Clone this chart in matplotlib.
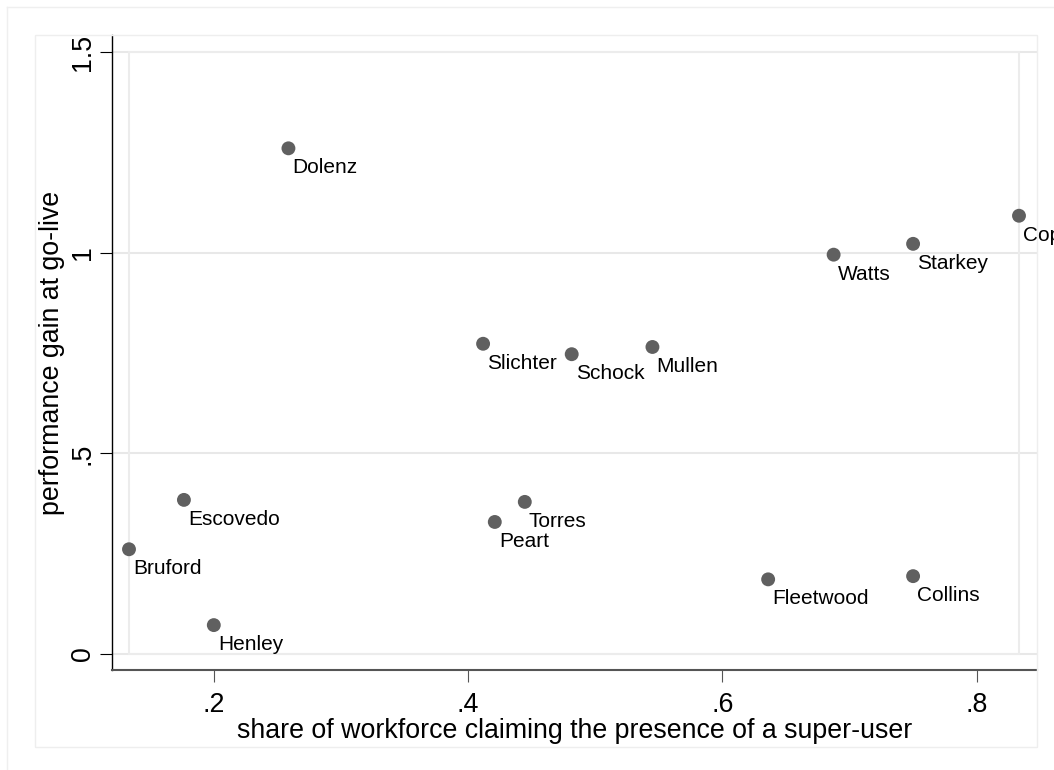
import matplotlib
matplotlib.use("Agg")
import matplotlib.pyplot as plt
from matplotlib.lines import Line2D
from matplotlib.patches import Rectangle

plt.rcParams['font.family'] = ['Liberation Sans', 'DejaVu Sans']

# drummers: share claiming a super-user vs. performance gain at go-live
names = ['Bruford', 'Escovedo', 'Henley', 'Dolenz', 'Slichter', 'Schock', 'Mullen',
         'Torres', 'Peart', 'Fleetwood', 'Collins', 'Watts', 'Starkey', 'Copeland']
share = [0.1333, 0.1765, 0.2000, 0.2587, 0.4118, 0.4815, 0.5450,
         0.4446, 0.4210, 0.6360, 0.7500, 0.6875, 0.7500, 0.8333]
gain = [0.261, 0.384, 0.072, 1.260, 0.773, 0.747, 0.765,
        0.379, 0.329, 0.186, 0.194, 0.995, 1.022, 1.092]

xticks = [0.2, 0.4, 0.6, 0.8]
yticks = [0, 0.5, 1, 1.5]


def stata_fmt(v):
    s = ('%g' % v)
    return s[1:] if s.startswith('0.') else s


W, H = 1054, 770
fig = plt.figure(figsize=(W / 100, H / 100), dpi=100)
fig.patch.set_facecolor('white')

# outer frames (graph region)
fig.add_artist(Line2D([7 / W, 7 / W], [0, 1 - 7 / H], transform=fig.transFigure,
                      color='#efefef', lw=1.0))
fig.add_artist(Line2D([7 / W, 1], [1 - 7 / H, 1 - 7 / H], transform=fig.transFigure,
                      color='#efefef', lw=1.0))
fig.add_artist(Rectangle((35 / W, 1 - 747 / H), (1037 - 35) / W, (747 - 35) / H,
                         transform=fig.transFigure, fill=False,
                         edgecolor='#eeeeee', lw=1.0))

ax = fig.add_axes([112 / W, 1 - 670 / H, (1037 - 112) / W, (670 - 35) / H])
ax.set_facecolor('none')

xmin, xmax = min(share), max(share)
xpad_l = 17 / 890 * (xmax - xmin)
xpad_r = 18 / 890 * (xmax - xmin)
ax.set_xlim(xmin - xpad_l, xmax + xpad_r)
ax.set_ylim(-16 / 602 * 1.5, 1.5 + 17 / 602 * 1.5)

# gridlines and inner plot region
for yv in yticks:
    ax.axhline(yv, color='#e8e8e8', lw=1.5, zorder=0)
ax.add_patch(Rectangle((xmin, 0), xmax - xmin, 1.5, fill=False,
                       edgecolor='#ececec', lw=1.5, zorder=0))

ax.scatter(share, gain, s=100, color='#606060', edgecolors='none', zorder=3)
for n, xv, yv in zip(names, share, gain):
    ax.annotate(n, (xv, yv), xytext=(4, -25), textcoords='offset pixels',
                fontsize=15, color='black', va='baseline', ha='left',
                annotation_clip=False)

ax.set_xticks(xticks)
ax.set_xticklabels([stata_fmt(v) for v in xticks], fontsize=19.3)
ax.set_yticks(yticks)
ax.set_yticklabels([stata_fmt(v) for v in yticks], fontsize=19.3,
                   rotation=90, va='center')

for s in ['top', 'right']:
    ax.spines[s].set_visible(False)
ax.spines['left'].set_color('black')
ax.spines['left'].set_linewidth(1.0)
ax.spines['bottom'].set_color('#555555')
ax.spines['bottom'].set_linewidth(1.5)
ax.tick_params(axis='y', length=8.6, width=0.8, color='black', pad=3)
ax.tick_params(axis='x', length=8.6, width=0.8, color='#555555', pad=7.5)

fig.text(574.5 / W, 1 - 738 / H,
         'share of workforce claiming the presence of a super-user',
         ha='center', va='baseline', fontsize=19.3)
fig.text(52 / W, 1 - 352.5 / H, 'performance gain at go-live',
         ha='center', va='center', rotation=90, fontsize=19.3)

fig.savefig('out.png', dpi=100, facecolor='white')
